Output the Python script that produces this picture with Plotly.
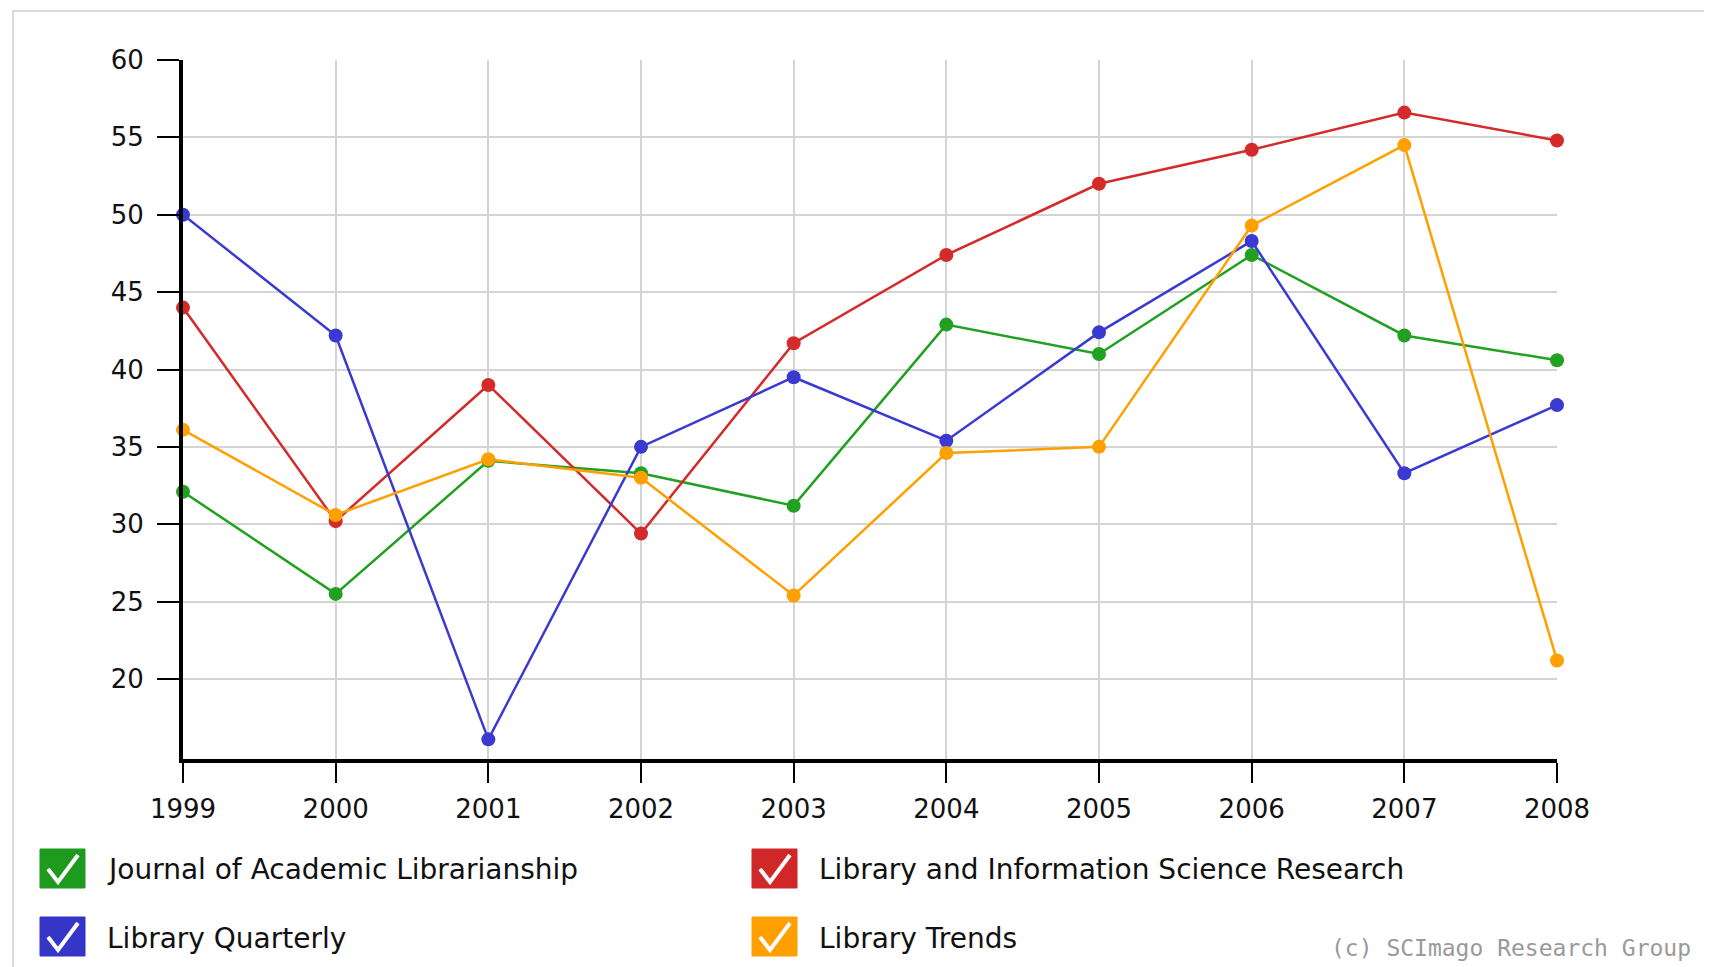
import plotly.graph_objects as go

years = [1999, 2000, 2001, 2002, 2003, 2004, 2005, 2006, 2007, 2008]
series_names = [
    "Journal of Academic Librarianship",
    "Library and Information Science Research",
    "Library Quarterly",
    "Library Trends",
]
jal = [32.1, 25.5, 34.1, 33.3, 31.2, 42.9, 41.0, 47.4, 42.2, 40.6]
lisr = [44.0, 30.2, 39.0, 29.4, 41.7, 47.4, 52.0, 54.2, 56.6, 54.8]
lq = [50.0, 42.2, 16.1, 35.0, 39.5, 35.4, 42.4, 48.3, 33.3, 37.7]
lt = [36.1, 30.6, 34.2, 33.0, 25.4, 34.6, 35.0, 49.3, 54.5, 21.2]
y_ticks = [20, 25, 30, 35, 40, 45, 50, 55, 60]
credit = "(c) SCImago Research Group"

line_colors = ["#22a022", "#d42a2a", "#3a3ad2", "#ffa000"]
box_colors = ["#1e9a1e", "#d02828", "#3535c8", "#ff9f00"]
values = [jal, lisr, lq, lt]

# page body has an 8px margin; work in window pixels and shift
OFF = 8
W, H = 1712 - OFF, 967 - OFF
L, R, T, B = 183 - OFF, 155, 60 - OFF, 208
PW, PH = W - L - R, H - T - B


def px(x):
    return (x - OFF - L) / PW


def py(y):
    return (OFF + H - B - y) / PH


fig = go.Figure()
for name, vals, col in zip(series_names, values, line_colors):
    fig.add_trace(go.Scatter(
        x=years, y=vals, name=name, mode="lines+markers",
        line=dict(color=col, width=2.5),
        marker=dict(color=col, size=14),
        cliponaxis=False,
    ))

shapes = []
# outer frame
shapes.append(dict(type="rect", xref="paper", yref="paper",
                   x0=px(13), x1=px(1760), y0=py(11), y1=py(1000),
                   line=dict(color="#dadada", width=2), layer="below"))

annotations = []
# legend: positions (box left, box top, text left)
legend_pos = [(40, 849, 105), (752, 849, 817), (40, 917, 105), (752, 917, 817)]
for i, (bx, by, tx) in enumerate(legend_pos):
    bw, bh = 45, 39
    shapes.append(dict(type="rect", xref="paper", yref="paper",
                       x0=px(bx), x1=px(bx + bw), y0=py(by + bh), y1=py(by),
                       fillcolor=box_colors[i], line=dict(color=box_colors[i], width=1)))
    p1 = (bx + 8, by + 20)
    p2 = (bx + 18, by + bh - 6)
    p3 = (bx + bw - 7, by + 6)
    path = "M {} {} L {} {} L {} {}".format(px(p1[0]), py(p1[1]), px(p2[0]), py(p2[1]),
                                            px(p3[0]), py(p3[1]))
    shapes.append(dict(type="path", xref="paper", yref="paper", path=path,
                       line=dict(color="white", width=4)))
    annotations.append(dict(xref="paper", yref="paper", x=px(tx), y=py(by + 21),
                            xanchor="left", yanchor="middle", showarrow=False,
                            text=series_names[i],
                            font=dict(family="DejaVu Sans", size=28, color="#111111")))

annotations.append(dict(xref="paper", yref="paper", x=px(1329), y=py(948),
                        xanchor="left", yanchor="middle", showarrow=False,
                        text=credit,
                        font=dict(family="DejaVu Sans Mono", size=23, color="#9a9a9a")))

fig.update_layout(
    width=W, height=H,
    margin=dict(l=L, r=R, t=T, b=B),
    paper_bgcolor="white", plot_bgcolor="white",
    showlegend=False,
    shapes=shapes, annotations=annotations,
    font=dict(family="DejaVu Sans", color="#111111"),
    xaxis=dict(
        range=[1999, 2008], tickvals=years, ticktext=[str(y) for y in years],
        showgrid=True, gridcolor="#d4d4d4", gridwidth=1.5,
        showline=True, linecolor="black", linewidth=4,
        ticks="outside", ticklen=20, tickwidth=2, tickcolor="black",
        tickfont=dict(family="DejaVu Sans", size=26, color="#111111"),
        ticklabelstandoff=4, zeroline=False,
    ),
    yaxis=dict(
        range=[14.83, 60], tickvals=y_ticks,
        showgrid=True, gridcolor="#d4d4d4", gridwidth=1.5,
        showline=True, linecolor="black", linewidth=4,
        ticks="outside", ticklen=22, tickwidth=2, tickcolor="black",
        tickfont=dict(family="DejaVu Sans", size=26, color="#111111"),
        ticklabelstandoff=8, zeroline=False,
    ),
)

fig.write_html("out.html", config={"displayModeBar": False})
